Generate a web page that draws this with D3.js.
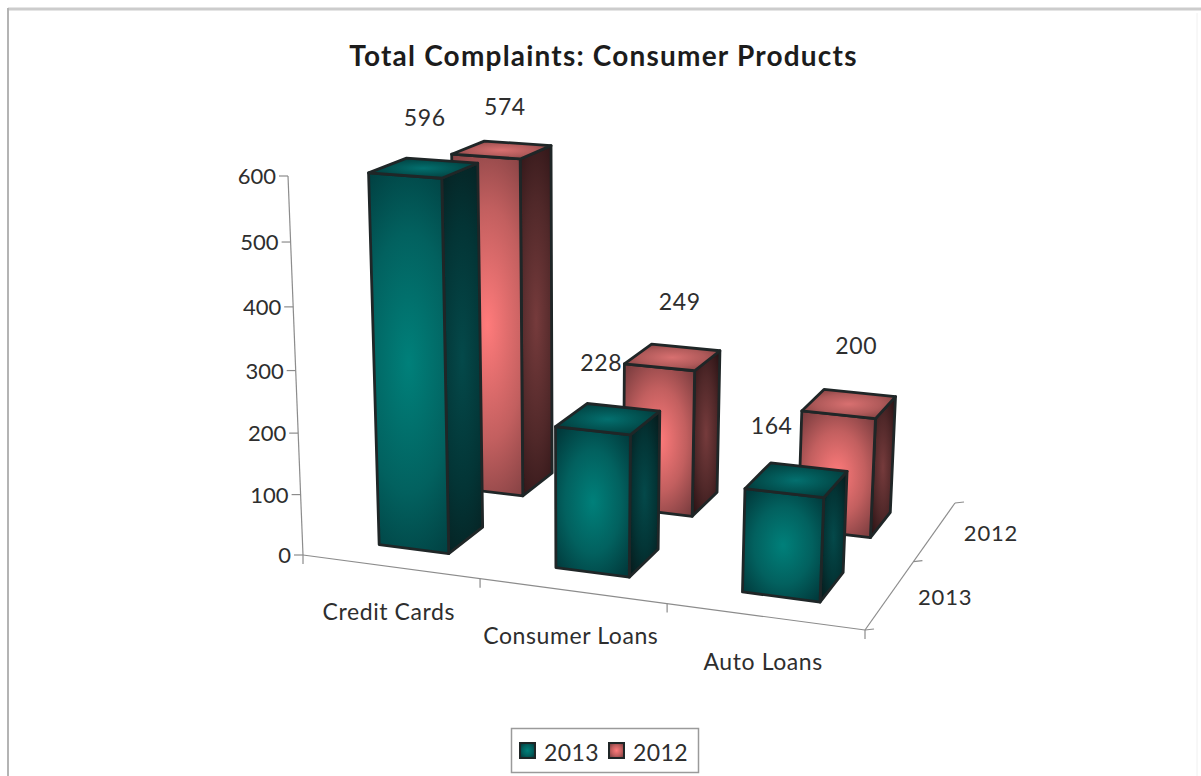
<!DOCTYPE html>
<html>
<head>
<meta charset="utf-8">
<script src="https://cdn.jsdelivr.net/npm/d3@7/dist/d3.min.js"></script>
<style>
  html, body { margin: 0; padding: 0; background: #fff; }
  svg { display: block; }
  text { font-family: Lato, "Open Sans", sans-serif; fill: #2e2e2e; }
</style>
</head>
<body>
<svg id="chart" width="1201" height="776"></svg>
<script>
// Complaint counts per product, one array per year
const categories = ["Credit Cards", "Consumer Loans", "Auto Loans"];
const seriesNames = ["2013", "2012"];
const values2013 = [596, 228, 164];
const values2012 = [574, 249, 200];
const valueTicks = [0, 100, 200, 300, 400, 500, 600];
const chartTitle = "Total Complaints: Consumer Products";

const svg = d3.select("#chart");
const defs = svg.append("defs");

// Scene axes: u runs along the products, v into the depth, w up the value axis
const uBand = d3.scaleBand().domain(categories).range([0, 1]).paddingInner(0.6).paddingOuter(0.3);
const vBand = d3.scaleBand().domain(seriesNames).range([0, 1]).paddingInner(0.56).paddingOuter(0.28);
const wScale = d3.scaleLinear().domain([0, 600]).range([0, 1]);

// Perspective camera fixed by the floor corners and the top of the value axis
const origin = [303, 555], uEnd = [865, 630], vEnd = [955, 503], wEnd = [288, 176];
const gU = -0.08, gV = 0.152, gW = -0.052;
const cU = [uEnd[0] * (1 + gU) - origin[0], uEnd[1] * (1 + gU) - origin[1]];
const cW = [wEnd[0] * (1 + gW) - origin[0], wEnd[1] * (1 + gW) - origin[1]];
const cV = [vEnd[0] * (1 + gU + gV) - uEnd[0] * (1 + gU), vEnd[1] * (1 + gU + gV) - uEnd[1] * (1 + gU)];
function project(u, v, w) {
  const d = 1 + gU * u + gV * v + gW * w;
  return [
    (cU[0] * u + cV[0] * v + cW[0] * w + origin[0]) / d,
    (cU[1] * u + cV[1] * v + cW[1] * w + origin[1]) / d
  ];
}

// Shaded fills: a bright core fading to a dark rim on every face
const palette = {
  "2013": {
    front: ["#00807a", "#02615f", "#013a3c"],
    side: ["#04494a", "#033435", "#071c1d"],
    top: ["#03706f", "#02504f", "#033536"]
  },
  "2012": {
    front: ["#ff7b7b", "#c25f5f", "#7b3d3f"],
    side: ["#763b3c", "#502829", "#2b1315"],
    top: ["#d87070", "#b05a5a", "#7a3d3d"]
  }
};
// Taller faces stretch the glow sideways so it reads as a long vertical sheen
function shade(id, stops, widen) {
  const g = defs.append("radialGradient").attr("id", id)
    .attr("cx", 0.5).attr("cy", 0.5).attr("r", 0.62)
    .attr("gradientTransform", `translate(0.5,0.5) scale(${widen},1) translate(-0.5,-0.5)`);
  g.append("stop").attr("offset", "0%").attr("stop-color", stops[0]);
  g.append("stop").attr("offset", "55%").attr("stop-color", stops[1]);
  g.append("stop").attr("offset", "100%").attr("stop-color", stops[2]);
}

const line = d3.line();
const axisColor = "#8c8c8c";

// Outer frame: open at the bottom, heavier along the top
svg.append("path").attr("d", "M1197,13V776").attr("fill", "none").attr("stroke", "#f0f0f0").attr("stroke-width", 1);
svg.append("path").attr("d", "M8,9H1201").attr("fill", "none").attr("stroke", "#cccccc").attr("stroke-width", 3);
svg.append("path").attr("d", "M8,8V776").attr("fill", "none").attr("stroke", "#b4b4b4").attr("stroke-width", 2);

// Title
svg.append("text").attr("x", 603.5).attr("y", 66).attr("text-anchor", "middle")
  .attr("font-size", 28).attr("font-weight", 700).attr("letter-spacing", 1.2)
  .style("fill", "#1c1c1c").text(chartTitle);

// Axis lines and tick marks
const axes = svg.append("g").attr("fill", "none").attr("stroke", axisColor).attr("stroke-width", 1.2);
function axisLine(a, b) { axes.append("path").attr("d", line([a, b])); }
axisLine(project(0, 0, 0), project(0, 0, 1));
axisLine(project(0, 0, 0), project(1, 0, 0));
axisLine(project(1, 0, 0), project(1, 1, 0));

valueTicks.forEach(t => {
  const p = project(0, 0, wScale(t));
  axisLine(p, [p[0] - 9, p[1]]);
});
const uStep = uBand.step();
d3.range(categories.length + 1).forEach(i => {
  const p = project(i * uStep, 0, 0);
  axisLine(p, [p[0], p[1] + 9]);
});
d3.range(seriesNames.length + 1).forEach(i => {
  const p = project(1, i * vBand.step(), 0);
  axisLine(p, [p[0] + 9, p[1] - 1]);
});

// Value tick labels
svg.append("g").selectAll("text").data(valueTicks).join("text")
  .attr("x", t => project(0, 0, wScale(t))[0] - 12)
  .attr("y", t => project(0, 0, wScale(t))[1] + 8)
  .attr("text-anchor", "end").attr("font-size", 22).text(t => t);

// Category labels under the front edge
const catDrop = 53, catShift = -1.5;
svg.append("g").selectAll("text").data(categories).join("text")
  .attr("x", c => project(uBand(c) + uBand.bandwidth() / 2, 0, 0)[0] + catShift)
  .attr("y", c => project(uBand(c) + uBand.bandwidth() / 2, 0, 0)[1] + catDrop)
  .attr("text-anchor", "middle").attr("font-size", 23).attr("letter-spacing", 0.6).text(c => c);

// Series labels beside the depth axis
const seriesOffsets = [[55, 11], [56, 10]];
svg.append("g").selectAll("text").data(seriesNames).join("text")
  .attr("x", (s, i) => project(1, vBand(s) + vBand.bandwidth() / 2, 0)[0] + seriesOffsets[i][0])
  .attr("y", (s, i) => project(1, vBand(s) + vBand.bandwidth() / 2, 0)[1] + seriesOffsets[i][1])
  .attr("text-anchor", "middle").attr("font-size", 22).attr("letter-spacing", 0.8).text(s => s);

// Bars, back row first so the front row overlaps it
const rows = [
  { name: "2012", values: values2012 },
  { name: "2013", values: values2013 }
];
const barsLayer = svg.append("g");
rows.forEach(row => {
  row.values.forEach((value, i) => {
    const u0 = uBand(categories[i]), u1 = u0 + uBand.bandwidth();
    const v0 = vBand(row.name), v1 = v0 + vBand.bandwidth();
    const w = wScale(value);
    const widen = 1 + 0.7 * w * w;
    const tones = palette[row.name];
    shade(`bar-${row.name}-${i}-front`, tones.front, widen);
    shade(`bar-${row.name}-${i}-side`, tones.side, widen);
    shade(`bar-${row.name}-${i}-top`, tones.top, 1);
    const faces = [
      { key: "side", pts: [[u1, v0, 0], [u1, v1, 0], [u1, v1, w], [u1, v0, w]] },
      { key: "front", pts: [[u0, v0, 0], [u1, v0, 0], [u1, v0, w], [u0, v0, w]] },
      { key: "top", pts: [[u0, v0, w], [u1, v0, w], [u1, v1, w], [u0, v1, w]] }
    ];
    barsLayer.append("g").selectAll("path").data(faces).join("path")
      .attr("d", f => line(f.pts.map(p => project(p[0], p[1], p[2]))) + "Z")
      .attr("fill", f => `url(#bar-${row.name}-${i}-${f.key})`)
      .attr("stroke", "#1f2627").attr("stroke-width", 2.8).attr("stroke-linejoin", "round");
  });
});

// Value labels above each bar
const labelOffsets = {
  "2013": [[1, -50], [-7, -56], [-25, -54]],
  "2012": [[3, -43], [7, -55], [7, -58]]
};
function topCenter(name, i, value) {
  return project(uBand(categories[i]) + uBand.bandwidth() / 2,
    vBand(name) + vBand.bandwidth() / 2, wScale(value));
}
rows.forEach(row => {
  svg.append("g").selectAll("text").data(row.values).join("text")
    .attr("x", (value, i) => topCenter(row.name, i, value)[0] + labelOffsets[row.name][i][0])
    .attr("y", (value, i) => topCenter(row.name, i, value)[1] + labelOffsets[row.name][i][1] + 8)
    .attr("text-anchor", "middle").attr("font-size", 23).attr("letter-spacing", 0.6).text(d => d);
});

// Legend
seriesNames.forEach(s => shade(`swatch-${s}`, palette[s].front, 1));
const legend = svg.append("g");
legend.append("rect").attr("x", 511.5).attr("y", 728.5).attr("width", 187).attr("height", 44)
  .attr("fill", "#fff").attr("stroke", "#9a9a9a").attr("stroke-width", 1.5);
const legendX = d3.scalePoint().domain(seriesNames).range([520, 609]);
seriesNames.forEach(s => {
  legend.append("rect").attr("x", legendX(s)).attr("y", 743).attr("width", 15).attr("height", 15)
    .attr("fill", `url(#swatch-${s})`).attr("stroke", "#1f2627").attr("stroke-width", 2);
  legend.append("text").attr("x", legendX(s) + 24).attr("y", 761)
    .attr("font-size", 23).attr("letter-spacing", 0.4).text(s);
});
</script>
</body>
</html>
